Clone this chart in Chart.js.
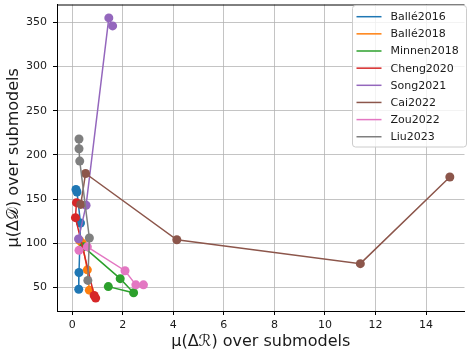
<!DOCTYPE html>
<html>
<head>
<meta charset="utf-8">
<script src="https://cdn.jsdelivr.net/npm/chart.js@4/dist/chart.umd.min.js"></script>
<style>
  html, body { margin: 0; padding: 0; background: #fff; }
  #wrap { width: 469px; height: 358px; position: relative; overflow: hidden; }
</style>
</head>
<body>
<div id="wrap"><canvas id="chart" width="469" height="358"></canvas></div>
<script>
// series names (legend order) and colours (matplotlib tab10)
const SERIES = ['Ballé2016', 'Ballé2018', 'Minnen2018', 'Cheng2020', 'Song2021', 'Cai2022', 'Zou2022', 'Liu2023'];
const COLORS = ['#1f77b4', '#ff7f0e', '#2ca02c', '#d62728', '#9467bd', '#8c564b', '#e377c2', '#7f7f7f'];

// mean delta-R over submodels (x) per series
const DELTA_R = [
    [0.15, 0.19, 0.33, 0.27, 0.26],
    [0.30, 0.40, 0.60, 0.68],
    [0.45, 1.90, 2.43, 1.43],
    [0.17, 0.13, 0.87, 0.93],
    [0.25, 0.55, 1.45, 1.60],
    [0.34, 0.53, 4.14, 11.40, 14.94],
    [0.27, 0.60, 2.09, 2.52, 2.82],
    [0.27, 0.27, 0.30, 0.68, 0.62],
];
// mean delta-D over submodels (y) per series
const DELTA_D = [
    [161, 158, 123, 67, 48],
    [103, 100, 70, 47],
    [96, 60, 44, 51],
    [146, 129, 41, 38],
    [105, 143, 355, 346],
    [144, 179, 104, 77, 175],
    [92, 96, 69, 53, 53],
    [218, 207, 193, 106, 58],
];

const X_TICKS = [0, 2, 4, 6, 8, 10, 12, 14];
const Y_TICKS = [50, 100, 150, 200, 250, 300, 350];

const FONT = "'DejaVu Sans', sans-serif";
const GRID = 'rgba(176,176,176,0.75)';

const datasets = SERIES.map((name, i) => ({
    label: name,
    data: DELTA_R[i].map((x, j) => ({ x, y: DELTA_D[i][j] })),
    borderColor: COLORS[i],
    backgroundColor: COLORS[i],
    pointBackgroundColor: COLORS[i],
    pointBorderColor: COLORS[i],
    pointBorderWidth: 0,
    pointRadius: 4.5,
    borderWidth: 1.5,
    showLine: true,
    order: SERIES.length - i,   // later series drawn on top, like matplotlib
}));

// top spine + legend box inside the axes (upper right)
const extras = {
    id: 'extras',
    afterDraw(chart) {
        const { ctx, chartArea: a } = chart;
        ctx.save();
        ctx.strokeStyle = '#000';
        ctx.lineWidth = 1;
        ctx.beginPath();
        ctx.moveTo(a.left, a.top + 0.5);
        ctx.lineTo(a.right, a.top + 0.5);
        ctx.stroke();

        // legend
        const bx = 352.5, by = 5.5, bw = 114, bh = 141.5, r = 3;
        ctx.fillStyle = 'rgba(255,255,255,0.8)';
        ctx.strokeStyle = '#cccccc';
        ctx.beginPath();
        ctx.roundRect(bx, by, bw, bh, r);
        ctx.fill();
        ctx.stroke();

        ctx.font = '11px ' + FONT;
        ctx.textBaseline = 'middle';
        ctx.textAlign = 'left';
        SERIES.forEach((name, i) => {
            const y = 16.7 + i * 17.15;
            ctx.strokeStyle = COLORS[i];
            ctx.lineWidth = 1.5;
            ctx.beginPath();
            ctx.moveTo(356.5, y);
            ctx.lineTo(381.5, y);
            ctx.stroke();
            ctx.fillStyle = '#1a1a1a';
            ctx.fillText(name, 390.5, y + 0.5);
        });
        ctx.restore();
    }
};

new Chart(document.getElementById('chart'), {
    type: 'scatter',
    data: { datasets },
    plugins: [extras],
    options: {
        responsive: false,
        animation: false,
        layout: { padding: { top: 1.5, right: 0, left: 0, bottom: 0 } },
        plugins: { legend: { display: false }, tooltip: { enabled: false } },
        scales: {
            x: {
                type: 'linear',
                min: -0.6,
                max: 15.52,
                afterBuildTicks: s => { s.ticks = X_TICKS.map(v => ({ value: v })); },
                afterFit: s => { s.height = 47; s.paddingLeft = 0; s.paddingRight = 0; },
                grid: { color: GRID, lineWidth: 1, tickColor: '#000', tickLength: 4, tickWidth: 1 },
                border: { color: '#000', width: 1 },
                ticks: { color: '#1a1a1a', font: { family: FONT, size: 11 }, padding: 4, maxRotation: 0 },
                title: {
                    display: true,
                    text: 'μ(Δℛ) over submodels',
                    color: '#1a1a1a',
                    font: { family: FONT, size: 16 },
                    padding: { top: 0, bottom: 6.5 },
                },
            },
            y: {
                type: 'linear',
                min: 23.4,
                max: 370.2,
                afterBuildTicks: s => { s.ticks = Y_TICKS.map(v => ({ value: v })); },
                afterFit: s => { s.width = 57; s.paddingTop = 0; s.paddingBottom = 0; },
                grid: { color: GRID, lineWidth: 1, tickColor: '#000', tickLength: 4, tickWidth: 1 },
                border: { color: '#000', width: 1 },
                ticks: { color: '#1a1a1a', font: { family: FONT, size: 11 }, padding: 6 },
                title: {
                    display: true,
                    text: 'μ(Δ𝒟) over submodels',
                    color: '#1a1a1a',
                    font: { family: FONT, size: 16 },
                    padding: { top: 4.5, bottom: 0 },
                },
            },
        },
    },
});
</script>
</body>
</html>
